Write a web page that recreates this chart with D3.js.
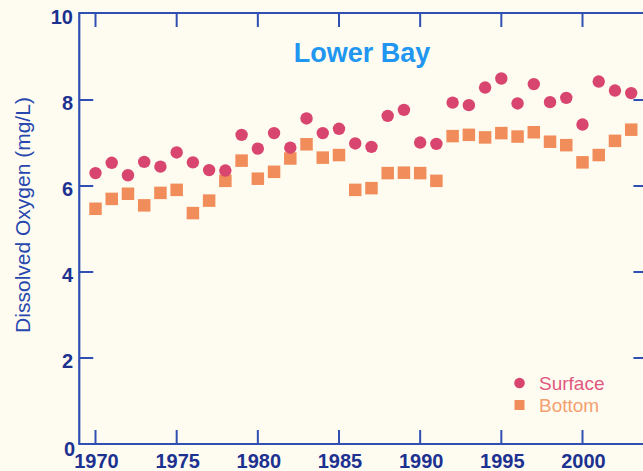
<!DOCTYPE html>
<html>
<head>
<meta charset="utf-8">
<script src="https://cdn.jsdelivr.net/npm/d3@7"></script>
<style>
  html, body { margin: 0; padding: 0; background: #fefcf1; }
  svg { display: block; }
</style>
</head>
<body>
<svg id="chart" width="643" height="471"></svg>
<script>
// ---- data ----
const years = [1970,1971,1972,1973,1974,1975,1976,1977,1978,1979,1980,1981,1982,1983,1984,1985,1986,1987,1988,1989,1990,1991,1992,1993,1994,1995,1996,1997,1998,1999,2000,2001,2002,2003];
const surface = [6.30,6.54,6.25,6.56,6.45,6.78,6.55,6.37,6.36,7.19,6.87,7.23,6.89,7.57,7.23,7.33,6.99,6.91,7.63,7.77,7.01,6.98,7.94,7.88,8.29,8.50,7.92,8.37,7.95,8.05,7.43,8.43,8.22,8.16];
const bottom  = [5.47,5.70,5.82,5.55,5.84,5.91,5.37,5.66,6.12,6.59,6.17,6.33,6.64,6.97,6.66,6.72,5.91,5.95,6.30,6.31,6.30,6.12,7.16,7.19,7.13,7.23,7.15,7.25,7.03,6.95,6.55,6.72,7.05,7.31];
const xTicks = [1970,1975,1980,1985,1990,1995,2000,2005];
const xTickLabels = ["1970","1975","1980","1985","1990","1995","2000",""];
const yTicks = [0,2,4,6,8,10];
const yTickLabels = ["0","2","4","6","8","10"];
const seriesNames = ["Surface","Bottom"];
const title = "Lower Bay";
const yTitle = "Dissolved Oxygen (mg/L)";

// ---- styles ----
const axisColor = "#2f4fb3";
const labelColor = "#1c3190";
const surfColor = "#d8456e";
const botColor = "#f18d5a";
const surfText = "#e0587f";
const botText = "#f4a06f";
const font = "Liberation Sans, Arial, sans-serif";

const svg = d3.select("#chart");
const x = d3.scaleLinear().domain([1970, 2000]).range([95.5, 582.5]);
const y = d3.scaleLinear().domain([0, 10]).range([444, 14]);
const xMin = 1969, xMax = 2004;
const tick = 14;

const g = svg.append("g");

// axes lines (box)
g.append("line").attr("x1", x(xMin)).attr("x2", x(xMin)).attr("y1", y(10)-1).attr("y2", y(0))
  .attr("stroke", axisColor).attr("stroke-width", 2.2);
g.append("line").attr("x1", x(xMin)-1).attr("x2", x(xMax)).attr("y1", y(0)).attr("y2", y(0))
  .attr("stroke", axisColor).attr("stroke-width", 2.2);
g.append("line").attr("x1", x(xMin)-1).attr("x2", x(xMax)).attr("y1", y(10)-1).attr("y2", y(10)-1)
  .attr("stroke", axisColor).attr("stroke-width", 2.2);
g.append("line").attr("x1", x(xMax)).attr("x2", x(xMax)).attr("y1", y(10)-1).attr("y2", y(0))
  .attr("stroke", axisColor).attr("stroke-width", 2.2);

// bottom & top ticks
g.selectAll(".bt").data(xTicks).join("line")
  .attr("x1", d => x(d)).attr("x2", d => x(d)).attr("y1", y(0)).attr("y2", y(0) - tick)
  .attr("stroke", axisColor).attr("stroke-width", 2);
g.selectAll(".tt").data(xTicks).join("line")
  .attr("x1", d => x(d)).attr("x2", d => x(d)).attr("y1", y(10)-1).attr("y2", y(10) - 1 + tick)
  .attr("stroke", axisColor).attr("stroke-width", 2);
// left & right ticks
const innerY = yTicks.filter(d => d > 0 && d < 10);
g.selectAll(".lt").data(innerY).join("line")
  .attr("x1", x(xMin)).attr("x2", x(xMin) + tick).attr("y1", d => y(d)).attr("y2", d => y(d))
  .attr("stroke", axisColor).attr("stroke-width", 2);
g.selectAll(".rt").data(innerY).join("line")
  .attr("x1", x(xMax)).attr("x2", x(xMax) - tick).attr("y1", d => y(d)).attr("y2", d => y(d))
  .attr("stroke", axisColor).attr("stroke-width", 2);

// tick labels
g.selectAll(".xl").data(xTicks).join("text")
  .attr("x", d => x(d) + 1).attr("y", 468)
  .attr("text-anchor", "middle")
  .attr("font-family", font)
  .attr("font-weight", "bold").attr("font-size", 20)
  .attr("fill", labelColor)
  .text((d, i) => xTickLabels[i]);
g.selectAll(".yl").data(yTicks).join("text")
  .attr("x", d => d === 0 ? 75 : 73)
  .attr("y", d => d === 0 ? 456 : y(d) + 10)
  .attr("text-anchor", "end")
  .attr("font-family", font)
  .attr("font-weight", "bold").attr("font-size", 20)
  .attr("fill", labelColor)
  .text((d, i) => yTickLabels[i]);

// y title
g.append("text")
  .attr("transform", "translate(30,215) rotate(-90)")
  .attr("text-anchor", "middle")
  .attr("font-family", font)
  .attr("font-size", 21)
  .attr("fill", "#2747ae")
  .text(yTitle);

// title
g.append("text")
  .attr("x", 362).attr("y", 62)
  .attr("text-anchor", "middle")
  .attr("font-family", font)
  .attr("font-weight", "bold").attr("font-size", 27)
  .attr("fill", "#2196f0")
  .text(title);

// data: bottom squares
const sq = 12.5;
g.selectAll(".bsq").data(years).join("rect")
  .attr("x", d => x(d) - sq/2).attr("y", (d, i) => y(bottom[i]) - sq/2)
  .attr("width", sq).attr("height", sq)
  .attr("fill", botColor);
// surface circles
g.selectAll(".sc").data(years).join("circle")
  .attr("cx", d => x(d)).attr("cy", (d, i) => y(surface[i]))
  .attr("r", 6.2)
  .attr("fill", surfColor);

// legend
const lg = g.append("g");
lg.append("circle").attr("cx", 519.5).attr("cy", 383).attr("r", 5.3).attr("fill", surfColor);
lg.append("rect").attr("x", 514.5).attr("y", 400).attr("width", 10).attr("height", 10).attr("fill", botColor);
lg.append("text").attr("x", 539).attr("y", 390)
  .attr("font-family", font).attr("font-size", 19)
  .attr("fill", surfText).text(seriesNames[0]);
lg.append("text").attr("x", 539).attr("y", 412)
  .attr("font-family", font).attr("font-size", 19)
  .attr("fill", botText).text(seriesNames[1]);
</script>
</body>
</html>
